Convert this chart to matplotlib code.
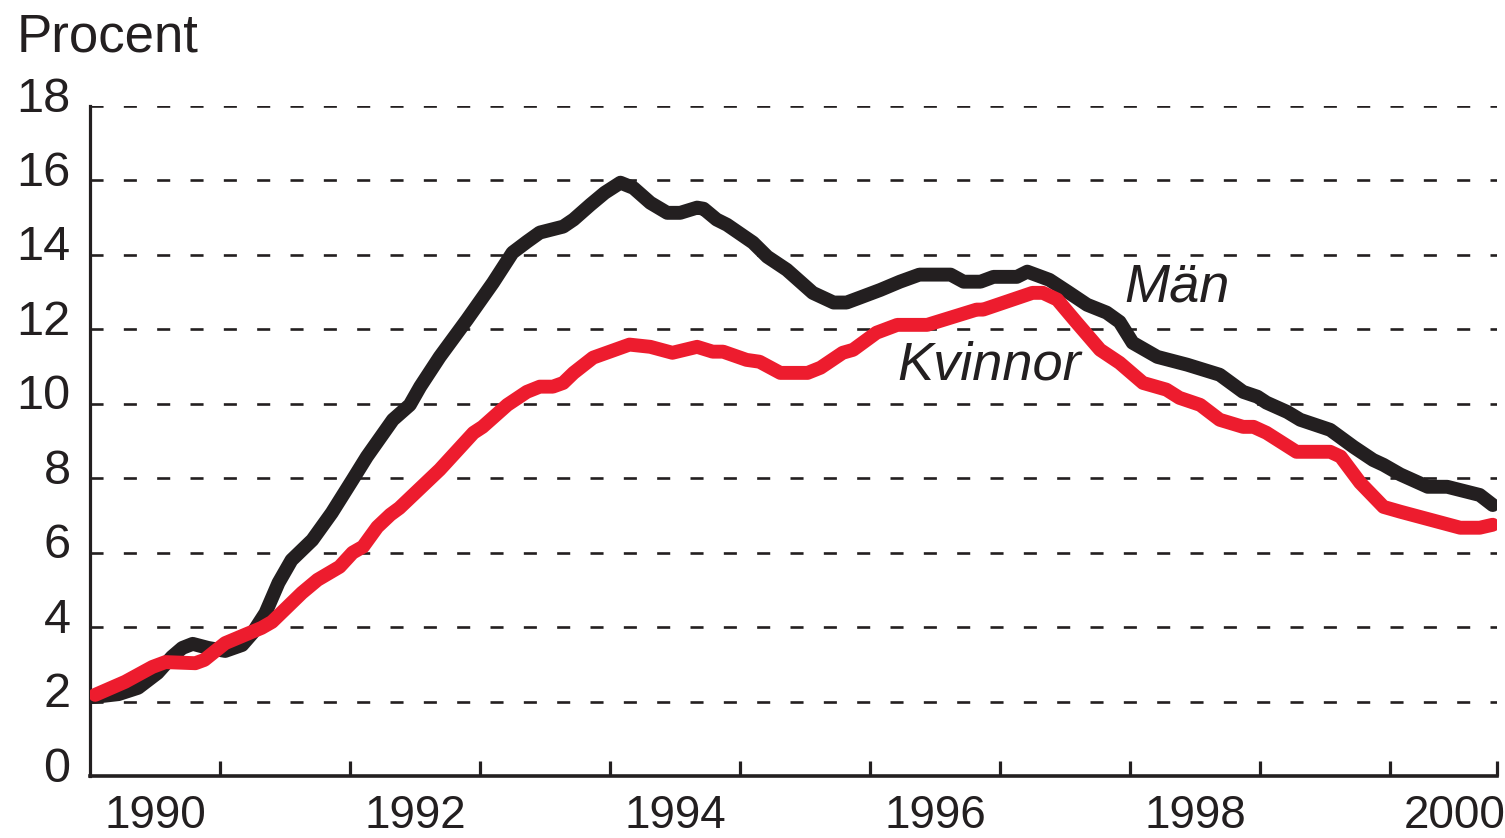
import matplotlib
matplotlib.use("Agg")
import matplotlib.pyplot as plt
from matplotlib.transforms import ScaledTranslation
import numpy as np

# ---- data (decimal year, percent) ----
man_x = [1990.02, 1990.22, 1990.37, 1990.52, 1990.63, 1990.71, 1990.79, 1990.91,
         1991.04, 1991.17, 1991.25, 1991.35, 1991.45, 1991.55, 1991.71, 1991.86,
         1992.02, 1992.13, 1992.33, 1992.46, 1992.54, 1992.69, 1992.90, 1993.10,
         1993.25, 1993.36, 1993.46, 1993.64, 1993.72, 1993.85, 1993.96, 1994.08,
         1994.18, 1994.31, 1994.44, 1994.54, 1994.67, 1994.72, 1994.82, 1994.90,
         1995.10, 1995.21, 1995.36, 1995.56, 1995.72, 1995.82, 1995.92, 1996.08,
         1996.23, 1996.38, 1996.62, 1996.72, 1996.85, 1996.95, 1997.13, 1997.21,
         1997.38, 1997.52, 1997.67, 1997.82, 1997.92, 1998.02, 1998.21, 1998.44,
         1998.69, 1998.87, 1998.98, 1999.05, 1999.21, 1999.31, 1999.54, 1999.72,
         1999.87, 1999.95, 2000.08, 2000.29, 2000.44, 2000.69, 2000.79]
man_y = [2.12, 2.20, 2.37, 2.77, 3.20, 3.44, 3.55, 3.44,
         3.36, 3.52, 3.84, 4.38, 5.19, 5.80, 6.34, 7.07,
         7.96, 8.58, 9.57, 9.97, 10.46, 11.26, 12.26, 13.25,
         14.06, 14.35, 14.60, 14.76, 14.95, 15.35, 15.67, 15.94,
         15.80, 15.40, 15.13, 15.13, 15.27, 15.24, 14.95, 14.81,
         14.33, 13.95, 13.60, 12.98, 12.72, 12.72, 12.85, 13.06,
         13.28, 13.47, 13.47, 13.28, 13.28, 13.41, 13.41, 13.55,
         13.33, 13.01, 12.66, 12.45, 12.20, 11.64, 11.26, 11.05,
         10.78, 10.32, 10.19, 10.03, 9.78, 9.57, 9.30, 8.84,
         8.49, 8.36, 8.10, 7.77, 7.77, 7.55, 7.28]

kv_x = [1990.04, 1990.27, 1990.48, 1990.58, 1990.81, 1990.88, 1991.04, 1991.19,
        1991.32, 1991.40, 1991.63, 1991.75, 1991.92, 1992.02, 1992.10, 1992.21,
        1992.31, 1992.38, 1992.69, 1992.95, 1993.02, 1993.21, 1993.36, 1993.46,
        1993.56, 1993.64, 1993.72, 1993.87, 1994.15, 1994.31, 1994.48, 1994.67,
        1994.79, 1994.87, 1995.05, 1995.15, 1995.31, 1995.52, 1995.62, 1995.79,
        1995.87, 1996.05, 1996.21, 1996.44, 1996.82, 1996.87, 1997.25, 1997.33,
        1997.44, 1997.59, 1997.77, 1997.92, 1998.10, 1998.28, 1998.38, 1998.54,
        1998.69, 1998.87, 1998.95, 1999.05, 1999.28, 1999.54, 1999.62, 1999.77,
        1999.95, 2000.08, 2000.54, 2000.69, 2000.79]
kv_y = [2.18, 2.53, 2.93, 3.06, 3.03, 3.12, 3.57, 3.79,
        3.98, 4.14, 4.92, 5.27, 5.62, 6.00, 6.16, 6.69,
        7.02, 7.20, 8.23, 9.22, 9.38, 9.97, 10.32, 10.46,
        10.46, 10.56, 10.83, 11.24, 11.59, 11.53, 11.37, 11.53,
        11.40, 11.40, 11.18, 11.13, 10.83, 10.83, 10.97, 11.37,
        11.45, 11.91, 12.12, 12.12, 12.53, 12.53, 12.98, 12.98,
        12.80, 12.18, 11.45, 11.10, 10.56, 10.38, 10.16, 9.97,
        9.57, 9.38, 9.38, 9.22, 8.71, 8.71, 8.58, 7.88,
        7.23, 7.10, 6.67, 6.67, 6.75]

y_ticks = [0, 2, 4, 6, 8, 10, 12, 14, 16, 18]
year_bounds = list(range(1990, 2001))
year_labels = ["1990", "1992", "1994", "1996", "1998", "2000"]
label_pos = [1990.5, 1992.5, 1994.5, 1996.5, 1998.5, 2000.5]

BLACK = "#231f20"
RED = "#ed1c2e"

plt.rcParams['font.family'] = ['Liberation Sans', 'DejaVu Sans']
plt.rcParams['lines.scale_dashes'] = False

fig = plt.figure(figsize=(15.05, 8.38), dpi=100)
ax = fig.add_axes([90/1505, 1 - 776/838, (1497-90)/1505, (776-106)/838])

# gridlines
for yv in y_ticks[1:]:
    ax.axhline(yv, color=BLACK, lw=1.9, linestyle=(0, (9.4, 14.6)), zorder=1)

ax.plot(man_x, man_y, color=BLACK, lw=10, solid_capstyle='round',
        solid_joinstyle='round', zorder=3)
ax.plot(kv_x, kv_y, color=RED, lw=10, solid_capstyle='round',
        solid_joinstyle='round', zorder=4)

ax.set_xlim(1990, 2000.823)
ax.set_ylim(0, 18)

for s in ['top', 'right']:
    ax.spines[s].set_visible(False)
ax.spines['left'].set_linewidth(2.3)
ax.spines['bottom'].set_linewidth(2.6)
ax.spines['left'].set_color(BLACK)
ax.spines['bottom'].set_color(BLACK)

ax.set_yticks(y_ticks)
ax.set_yticklabels([str(v) for v in y_ticks])
ax.tick_params(axis='y', length=0, pad=14, labelsize=35, labelcolor=BLACK)
offset = ScaledTranslation(0, 12/100, fig.dpi_scale_trans)
for lab in ax.get_yticklabels():
    lab.set_transform(lab.get_transform() + offset)

ax.set_xticks(year_bounds[1:] + [2000.823])
ax.set_xticklabels([])
ax.tick_params(axis='x', which='major', direction='in', length=11, width=2.3,
               color=BLACK)
ax.set_xticks(label_pos, minor=True)
ax.set_xticklabels(year_labels, minor=True)
ax.tick_params(axis='x', which='minor', length=0, pad=13, labelsize=33,
               labelcolor=BLACK)

ax.text(1997.96, 12.74, "Män", fontsize=39, style='italic', color=BLACK,
        ha='left', va='baseline')
ax.text(1996.21, 10.65, "Kvinnor", fontsize=39, style='italic', color=BLACK,
        ha='left', va='baseline')

fig.text(17/1505, 1 - 52/838, "Procent", fontsize=38, color=BLACK,
         ha='left', va='baseline')

fig.savefig("out.png", dpi=100)
